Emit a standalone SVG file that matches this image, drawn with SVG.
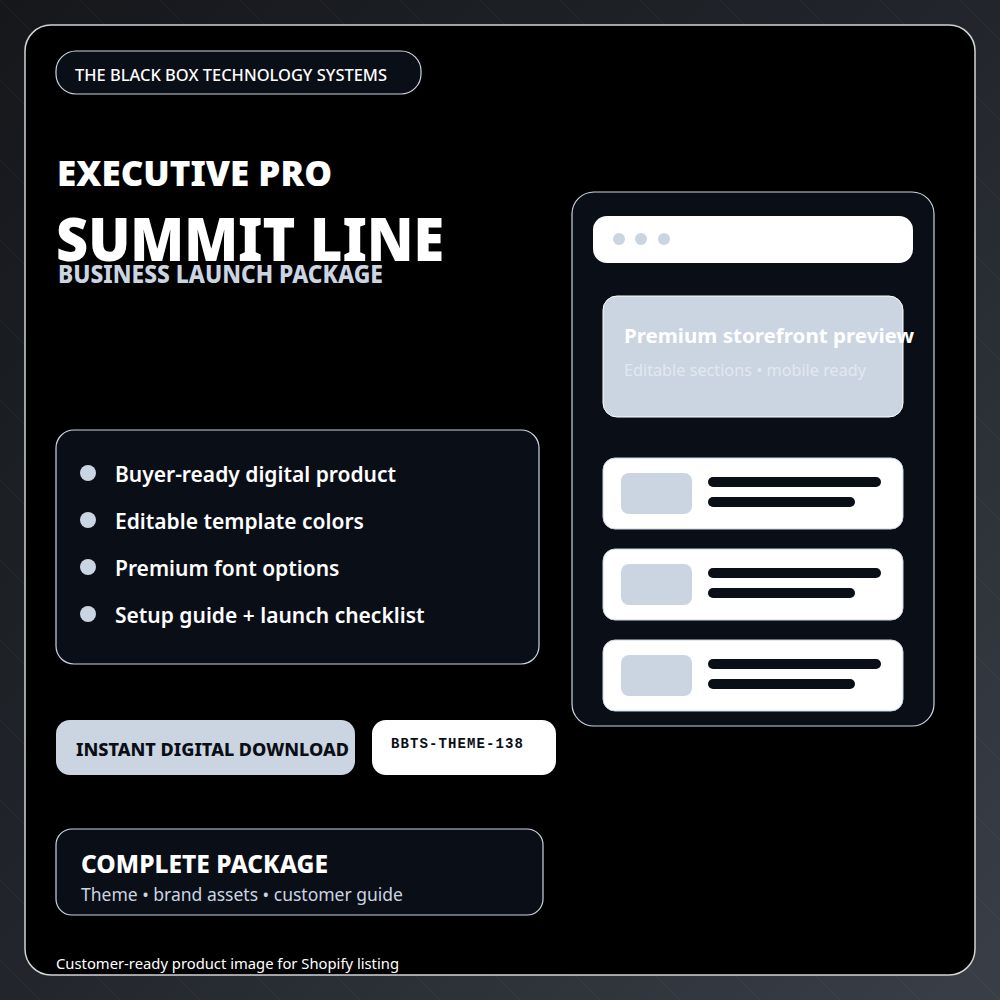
<svg xmlns="http://www.w3.org/2000/svg" width="1000" height="1000" viewBox="0 0 1000 1000">
<defs>
<linearGradient id="bg" x1="0" y1="0" x2="1" y2="1"><stop offset="0" stop-color="#15171b"/><stop offset="0.5" stop-color="#22262c"/><stop offset="1" stop-color="#3a3f47"/></linearGradient>
<pattern id="diag" width="80" height="80" patternUnits="userSpaceOnUse"><path d="M0 0L80 80" stroke="#ffffff" stroke-opacity="0.04" stroke-width="1"/></pattern>
</defs>
<style>
text{font-family:"Noto Sans","Open Sans","Liberation Sans",sans-serif}
.box{fill:#0a0e17;stroke:#cbd5e1;stroke-width:1.2}
.w{fill:#fff}
.feat{fill:#fff;font-size:21px;font-weight:600}
.dot{fill:#cbd5e1}
.row{fill:#fff;stroke:#cbd5e1;stroke-width:1}
.thumb{fill:#cbd5e1}
.ln{stroke:#0a0e17;stroke-width:10;stroke-linecap:round}
</style>
<rect width="1000" height="1000" fill="url(#bg)"/>
<rect width="1000" height="1000" fill="url(#diag)"/>
<rect x="25" y="25" width="950" height="950" rx="26" fill="#000" stroke="#d4d4d4" stroke-width="1.5"/>
<g id="brand"><rect x="56" y="51" width="365" height="43" rx="20" class="box"/><text x="75" y="81" font-size="16" font-weight="500" class="w" textLength="312" lengthAdjust="spacingAndGlyphs">THE BLACK BOX TECHNOLOGY SYSTEMS</text></g>
<g id="title">
<text x="57" y="186" font-size="35" font-weight="900" class="w" textLength="275" lengthAdjust="spacingAndGlyphs">EXECUTIVE PRO</text>
<text x="56" y="261" font-size="60" font-weight="900" class="w" textLength="388" lengthAdjust="spacingAndGlyphs">SUMMIT LINE</text>
<text x="58" y="283" font-size="24" font-weight="800" fill="#cbd5e1" textLength="325" lengthAdjust="spacingAndGlyphs">BUSINESS LAUNCH PACKAGE</text>
</g>
<g id="features">
<rect x="56" y="430" width="483" height="234" rx="18" class="box"/>
<circle cx="88" cy="473" r="8" class="dot"/><text x="115" y="482" class="feat">Buyer-ready digital product</text>
<circle cx="88" cy="520" r="8" class="dot"/><text x="115" y="529" class="feat">Editable template colors</text>
<circle cx="88" cy="567" r="8" class="dot"/><text x="115" y="576" class="feat">Premium font options</text>
<circle cx="88" cy="614" r="8" class="dot"/><text x="115" y="623" class="feat">Setup guide + launch checklist</text>
</g>
<g id="download"><rect x="56" y="720" width="299" height="55" rx="14" fill="#cbd5e1"/><text x="76" y="756" font-size="18" font-weight="800" fill="#0a0e17" textLength="273" lengthAdjust="spacingAndGlyphs">INSTANT DIGITAL DOWNLOAD</text></g>
<g id="code"><rect x="372" y="720" width="184" height="55" rx="14" fill="#fff"/><text x="391" y="748" font-size="14" font-weight="700" fill="#0a0e17" textLength="132" style="font-family:'Liberation Mono',monospace">BBTS-THEME-138</text></g>
<g id="package"><rect x="56" y="829" width="487" height="86" rx="16" class="box"/><text x="81" y="873" font-size="24" font-weight="800" class="w" textLength="247" lengthAdjust="spacingAndGlyphs">COMPLETE PACKAGE</text><text x="81" y="901" font-size="18" fill="#cbd5e1" textLength="322" lengthAdjust="spacingAndGlyphs">Theme • brand assets • customer guide</text></g>
<g id="footer"><text x="56" y="969" font-size="14" class="w" textLength="343" lengthAdjust="spacingAndGlyphs">Customer-ready product image for Shopify listing</text></g>
<g id="preview">
<rect x="572" y="192" width="362" height="534" rx="22" class="box"/>
<rect x="593" y="216" width="320" height="47" rx="14" fill="#fff"/>
<circle cx="619" cy="239" r="6" class="dot"/><circle cx="641" cy="239" r="6" class="dot"/><circle cx="664" cy="239" r="6" class="dot"/>
<rect x="603" y="296" width="300" height="121" rx="14" fill="#cbd5e1" stroke="#fff" stroke-width="1"/>
<text x="624" y="343" font-size="20" font-weight="700" class="w" textLength="290" lengthAdjust="spacingAndGlyphs">Premium storefront preview</text>
<text x="624" y="376" font-size="16" fill="#e2e8f0" textLength="242" lengthAdjust="spacingAndGlyphs">Editable sections • mobile ready</text>
<rect x="603" y="458" width="300" height="71" rx="12" class="row"/><rect x="621" y="473" width="71" height="41" rx="8" class="thumb"/><line x1="713" y1="482" x2="876" y2="482" class="ln"/><line x1="713" y1="502" x2="850" y2="502" class="ln"/>
<rect x="603" y="549" width="300" height="71" rx="12" class="row"/><rect x="621" y="564" width="71" height="41" rx="8" class="thumb"/><line x1="713" y1="573" x2="876" y2="573" class="ln"/><line x1="713" y1="593" x2="850" y2="593" class="ln"/>
<rect x="603" y="640" width="300" height="71" rx="12" class="row"/><rect x="621" y="655" width="71" height="41" rx="8" class="thumb"/><line x1="713" y1="664" x2="876" y2="664" class="ln"/><line x1="713" y1="684" x2="850" y2="684" class="ln"/>
</g>
</svg>
